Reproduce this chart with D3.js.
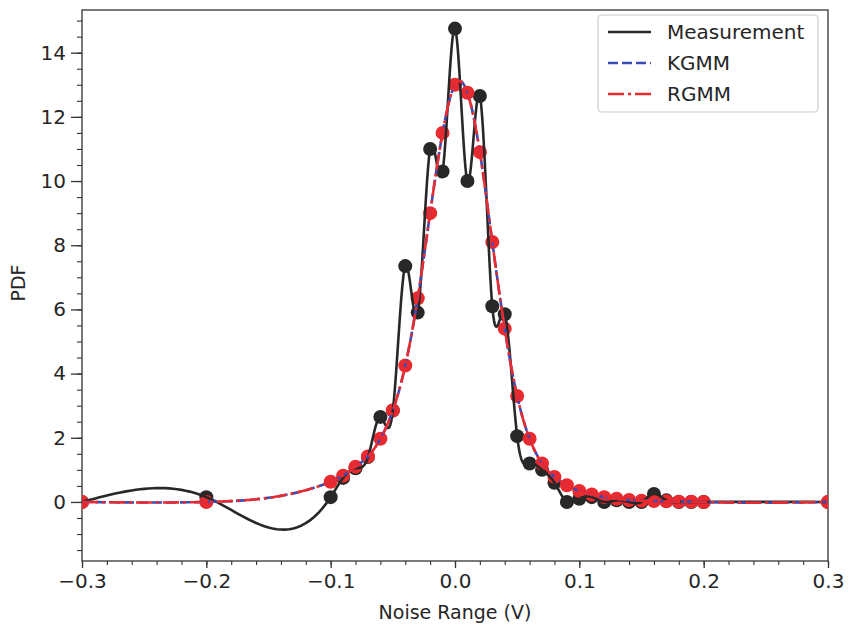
<!DOCTYPE html>
<html>
<head>
<meta charset="utf-8">
<script src="https://cdn.jsdelivr.net/npm/d3@7"></script>
<style>
  html, body { margin: 0; padding: 0; background: #fff; }
  svg { display: block; font-family: "DejaVu Sans", sans-serif; }
</style>
</head>
<body>
<svg id="chart" width="848" height="632"></svg>
<script>
// ---- Data ----
const xValues = [-0.3, -0.2, -0.1, -0.09, -0.08, -0.07, -0.06, -0.05, -0.04, -0.03, -0.02, -0.01,
  0.0, 0.01, 0.02, 0.03, 0.04, 0.05, 0.06, 0.07, 0.08, 0.09, 0.10, 0.11, 0.12, 0.13, 0.14,
  0.15, 0.16, 0.17, 0.18, 0.19, 0.20, 0.3];
const measurement = [0, 0.15, 0.15, 0.75, 1.05, 1.4, 2.65, 2.85, 7.35, 5.9, 11.0, 10.3,
  14.75, 10.0, 12.65, 6.1, 5.85, 2.05, 1.2, 1.0, 0.6, 0.0, 0.1, 0.15, 0.0, 0.05, 0.0,
  0.0, 0.25, 0.05, 0.0, 0.0, 0.0, 0.0];
const kgmm = [0, 0, 0.63, 0.82, 1.1, 1.42, 1.97, 2.85, 4.25, 6.35, 9.0, 11.5,
  13.0, 12.75, 10.9, 8.1, 5.4, 3.3, 1.97, 1.2, 0.78, 0.52, 0.34, 0.23, 0.15, 0.1, 0.06,
  0.04, 0.03, 0.02, 0.01, 0.01, 0.0, 0.0];
const rgmm = [0, 0, 0.63, 0.82, 1.1, 1.42, 1.97, 2.85, 4.25, 6.35, 9.0, 11.5,
  13.0, 12.75, 10.9, 8.1, 5.4, 3.3, 1.97, 1.2, 0.78, 0.52, 0.34, 0.23, 0.15, 0.1, 0.06,
  0.04, 0.03, 0.02, 0.01, 0.01, 0.0, 0.0];
const xTicks = [-0.3, -0.2, -0.1, 0.0, 0.1, 0.2, 0.3];
const yTicks = [0, 2, 4, 6, 8, 10, 12, 14];
const seriesNames = ["Measurement", "KGMM", "RGMM"];

// ---- Layout ----
const svg = d3.select("#chart");
const pLeft = 82, pRight = 828, pTop = 10, pBottom = 561;
const textColor = "#262626";
const cBlack = "#282828", cBlue = "#3a4cb8", cRed = "#ea2a2e";

const x = d3.scaleLinear().domain([-0.3, 0.3]).range([pLeft, pRight]);
const y = d3.scaleLinear().domain([-1.84, 15.33]).range([pBottom, pTop]);

// Frame
svg.append("rect").attr("x", pLeft).attr("y", pTop)
  .attr("width", pRight - pLeft).attr("height", pBottom - pTop)
  .attr("fill", "none").attr("stroke", "#333").attr("stroke-width", 1.3);

// X axis
const xMinor = d3.range(-30, 31, 2).map(d => d / 100);
svg.append("g").attr("transform", `translate(0,${pBottom})`)
  .call(d3.axisBottom(x).tickValues(xMinor).tickSize(4).tickFormat(""))
  .call(g => g.select(".domain").remove())
  .call(g => g.selectAll("line").attr("stroke", "#333").attr("stroke-width", 1.1));
svg.append("g").attr("transform", `translate(0,${pBottom})`)
  .call(d3.axisBottom(x).tickValues(xTicks).tickSize(7).tickPadding(6)
    .tickFormat(d => d3.format(".1f")(d).replace("-", "\u2212")))
  .call(g => g.select(".domain").remove())
  .call(g => g.selectAll("line").attr("stroke", "#333").attr("stroke-width", 1.3))
  .call(g => g.selectAll("text").attr("fill", textColor)
    .style("font-size", "20px").style("font-family", "DejaVu Sans"));

// Y axis
const yMinor = d3.range(-3, 31).map(d => d / 2).filter(d => d >= -1.84 && d <= 15.33);
svg.append("g").attr("transform", `translate(${pLeft},0)`)
  .call(d3.axisLeft(y).tickValues(yMinor).tickSize(5).tickFormat(""))
  .call(g => g.select(".domain").remove())
  .call(g => g.selectAll("line").attr("stroke", "#333").attr("stroke-width", 1.1));
svg.append("g").attr("transform", `translate(${pLeft},0)`)
  .call(d3.axisLeft(y).tickValues(yTicks).tickSize(11).tickPadding(5).tickFormat(d3.format("d")))
  .call(g => g.select(".domain").remove())
  .call(g => g.selectAll("line").attr("stroke", "#333").attr("stroke-width", 1.3))
  .call(g => g.selectAll("text").attr("fill", textColor)
    .style("font-size", "20px").style("font-family", "DejaVu Sans"));

// Axis labels
svg.append("text").attr("x", (pLeft + pRight) / 2).attr("y", 619)
  .attr("text-anchor", "middle").attr("fill", textColor)
  .style("font-size", "19px").text("Noise Range (V)");
svg.append("text").attr("transform", `translate(25,283) rotate(-90)`)
  .attr("text-anchor", "middle").attr("fill", textColor)
  .style("font-size", "19px").text("PDF");

// ---- Natural cubic spline in x (smooth drawing between the data points) ----
function splineCurve(xs, ys, steps) {
  const n = xs.length;
  const h = [], alpha = new Array(n).fill(0);
  for (let i = 0; i < n - 1; i++) h.push(xs[i + 1] - xs[i]);
  for (let i = 1; i < n - 1; i++)
    alpha[i] = 3 / h[i] * (ys[i + 1] - ys[i]) - 3 / h[i - 1] * (ys[i] - ys[i - 1]);
  const l = new Array(n).fill(1), mu = new Array(n).fill(0), z = new Array(n).fill(0);
  for (let i = 1; i < n - 1; i++) {
    l[i] = 2 * (xs[i + 1] - xs[i - 1]) - h[i - 1] * mu[i - 1];
    mu[i] = h[i] / l[i];
    z[i] = (alpha[i] - h[i - 1] * z[i - 1]) / l[i];
  }
  const c = new Array(n).fill(0), b = new Array(n).fill(0), d = new Array(n).fill(0);
  for (let j = n - 2; j >= 0; j--) {
    c[j] = z[j] - mu[j] * c[j + 1];
    b[j] = (ys[j + 1] - ys[j]) / h[j] - h[j] * (c[j + 1] + 2 * c[j]) / 3;
    d[j] = (c[j + 1] - c[j]) / (3 * h[j]);
  }
  const pts = [];
  for (let j = 0; j < n - 1; j++) {
    for (let k = 0; k < steps; k++) {
      const t = h[j] * k / steps;
      pts.push([xs[j] + t, ys[j] + b[j] * t + c[j] * t * t + d[j] * t * t * t]);
    }
  }
  pts.push([xs[n - 1], ys[n - 1]]);
  return pts;
}

// ---- Marks ----
svg.append("clipPath").attr("id", "plotclip").append("rect")
  .attr("x", pLeft).attr("y", pTop).attr("width", pRight - pLeft).attr("height", pBottom - pTop);
const plot = svg.append("g").attr("clip-path", "url(#plotclip)");

const meas = xValues.map((v, i) => [v, measurement[i]]);
const rg = xValues.map((v, i) => [v, rgmm[i]]);

plot.append("g").selectAll("circle").data(meas).join("circle")
  .attr("cx", d => x(d[0])).attr("cy", d => y(d[1])).attr("r", 7).attr("fill", cBlack);
plot.append("g").selectAll("circle").data(rg).join("circle")
  .attr("cx", d => x(d[0])).attr("cy", d => y(d[1])).attr("r", 7).attr("fill", cRed);

const line = d3.line().x(d => x(d[0])).y(d => y(d[1]));

plot.append("path").attr("d", line(splineCurve(xValues, measurement, 30))).attr("fill", "none")
  .attr("stroke", cBlack).attr("stroke-width", 2.6).attr("stroke-linejoin", "round");
plot.append("path").attr("d", line(splineCurve(xValues, kgmm, 30))).attr("fill", "none")
  .attr("stroke", cBlue).attr("stroke-width", 2.6).attr("stroke-dasharray", "10,4");
plot.append("path").attr("d", line(splineCurve(xValues, rgmm, 30))).attr("fill", "none")
  .attr("stroke", cRed).attr("stroke-width", 2.6).attr("stroke-dasharray", "16,4,3,4");

// ---- Legend ----
const lg = svg.append("g");
lg.append("rect").attr("x", 598).attr("y", 15).attr("width", 220).attr("height", 97)
  .attr("rx", 4).attr("fill", "#fff").attr("fill-opacity", 0.85)
  .attr("stroke", "#cccccc").attr("stroke-width", 1.2);
const legendStyles = [
  { color: cBlack, dash: null },
  { color: cBlue, dash: "10,4" },
  { color: cRed, dash: "16,4,3,4" }
];
seriesNames.forEach((name, i) => {
  const cy = 32 + i * 31;
  const l = lg.append("line").attr("x1", 608).attr("x2", 651).attr("y1", cy).attr("y2", cy)
    .attr("stroke", legendStyles[i].color).attr("stroke-width", 2.6);
  if (legendStyles[i].dash) l.attr("stroke-dasharray", legendStyles[i].dash);
  lg.append("text").attr("x", 667).attr("y", cy + 7).attr("fill", textColor)
    .style("font-size", "20px").text(name);
});
</script>
</body>
</html>
